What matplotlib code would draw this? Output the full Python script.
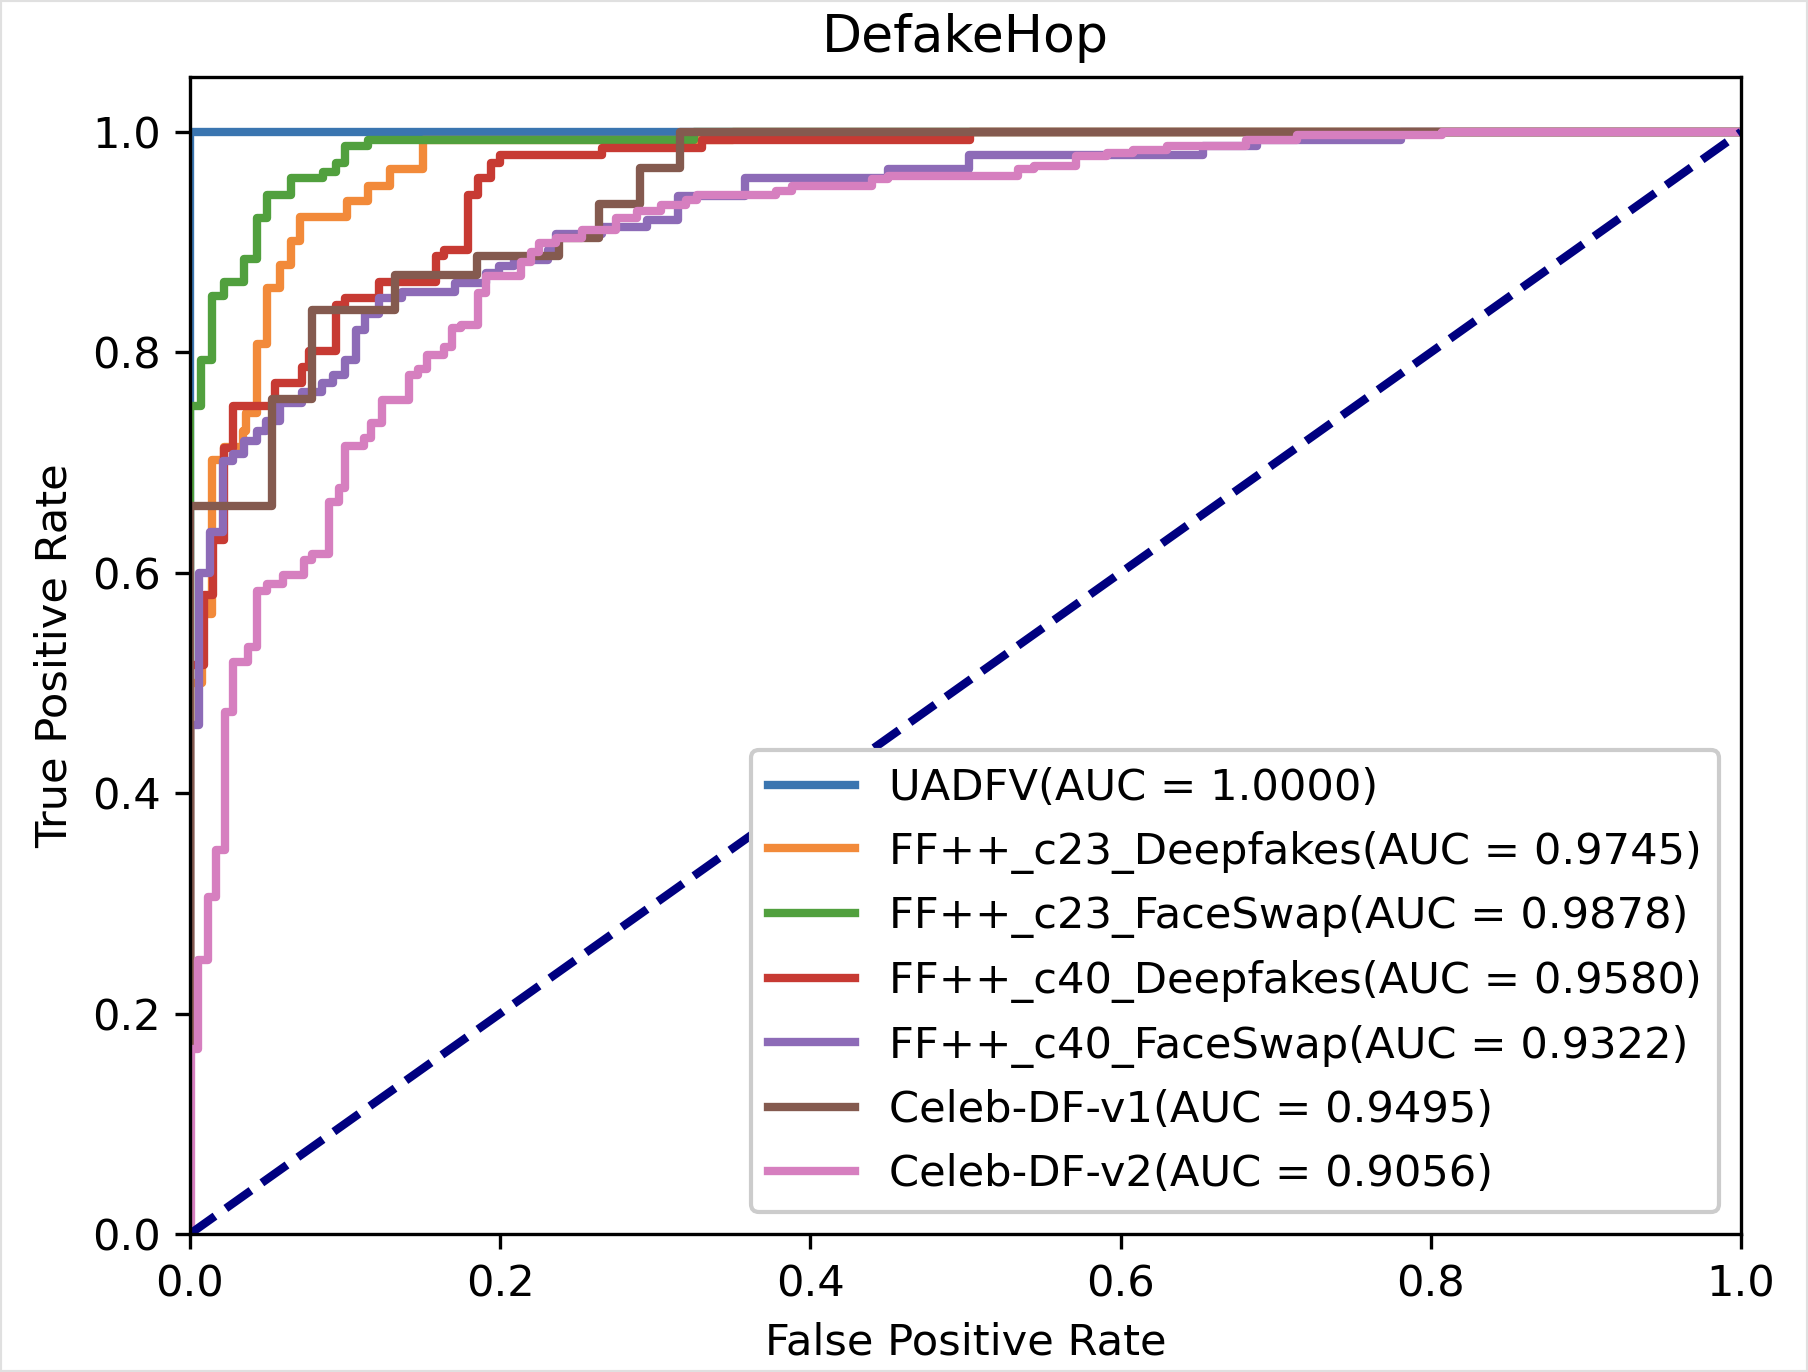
import matplotlib
matplotlib.use("Agg")
import matplotlib.pyplot as plt
from matplotlib.patches import Rectangle

# ---- data (corner points of each ROC staircase) ----
names = ["UADFV", "FF++_c23_Deepfakes", "FF++_c23_FaceSwap", "FF++_c40_Deepfakes",
         "FF++_c40_FaceSwap", "Celeb-DF-v1", "Celeb-DF-v2"]
aucs = [1.0000, 0.9745, 0.9878, 0.9580, 0.9322, 0.9495, 0.9056]

uadfv_fpr = [0.0, 0.0, 1.0]
uadfv_tpr = [0.0, 1.0, 1.0]

c23df_fpr = [0.0, 0.0, 0.008, 0.014, 0.022, 0.034, 0.036, 0.043, 0.050, 0.058, 0.065,
             0.071, 0.101, 0.115, 0.129, 0.150, 0.35, 1.0]
c23df_tpr = [0.0, 0.50, 0.563, 0.702, 0.714, 0.729, 0.745, 0.808, 0.858, 0.879, 0.901,
             0.923, 0.937, 0.951, 0.966, 0.993, 1.0, 1.0]

c23fs_fpr = [0.0, 0.0, 0.007, 0.014, 0.022, 0.035, 0.043, 0.050, 0.065, 0.086, 0.094,
             0.100, 0.115, 0.325, 1.0]
c23fs_tpr = [0.0, 0.751, 0.793, 0.851, 0.864, 0.885, 0.922, 0.943, 0.958, 0.964, 0.972,
             0.987, 0.993, 1.0, 1.0]

c40df_fpr = [0.0, 0.0, 0.009, 0.015, 0.022, 0.028, 0.055, 0.0725, 0.077, 0.094, 0.100,
             0.122, 0.159, 0.164, 0.179, 0.186, 0.194, 0.200, 0.266, 0.330, 0.503, 1.0]
c40df_tpr = [0.0, 0.516, 0.580, 0.630, 0.713, 0.751, 0.772, 0.787, 0.801, 0.843, 0.849,
             0.864, 0.887, 0.893, 0.943, 0.958, 0.972, 0.979, 0.985, 0.993, 1.0, 1.0]

c40fs_fpr = [0.0, 0.0, 0.006, 0.013, 0.0215, 0.028, 0.035, 0.043, 0.049, 0.058, 0.0725,
             0.085, 0.092, 0.100, 0.107, 0.113, 0.122, 0.137, 0.171, 0.191, 0.199, 0.209,
             0.231, 0.236, 0.266, 0.295, 0.315, 0.358, 0.450, 0.502, 0.653, 0.688, 0.781, 1.0]
c40fs_tpr = [0.0, 0.462, 0.600, 0.637, 0.701, 0.708, 0.720, 0.729, 0.738, 0.754, 0.764,
             0.772, 0.779, 0.793, 0.820, 0.835, 0.849, 0.855, 0.863, 0.872, 0.878, 0.884,
             0.893, 0.907, 0.914, 0.920, 0.942, 0.958, 0.966, 0.979, 0.987, 0.993, 1.0, 1.0]

cdf1_fpr = [0.0, 0.0, 0.0527, 0.0787, 0.132, 0.185, 0.238, 0.264, 0.290, 0.316, 1.0]
cdf1_tpr = [0.0, 0.661, 0.758, 0.838, 0.870, 0.887, 0.904, 0.935, 0.967, 1.0, 1.0]

cdf2_fpr = [0.0, 0.001, 0.0054, 0.0119, 0.017, 0.0226, 0.028, 0.0377, 0.043, 0.0496, 0.060,
            0.0733, 0.0787, 0.0894, 0.0959, 0.100, 0.112, 0.117, 0.124, 0.141, 0.147, 0.153,
            0.164, 0.169, 0.175, 0.186, 0.191, 0.2136, 0.220, 0.225, 0.236, 0.253, 0.275,
            0.288, 0.304, 0.320, 0.327, 0.378, 0.388, 0.440, 0.450, 0.534, 0.544, 0.571,
            0.591, 0.608, 0.630, 0.681, 0.714, 0.807, 1.0]
cdf2_tpr = [0.0, 0.168, 0.249, 0.306, 0.348, 0.474, 0.519, 0.533, 0.583, 0.590, 0.598,
            0.612, 0.617, 0.664, 0.677, 0.715, 0.722, 0.736, 0.757, 0.779, 0.785, 0.798,
            0.805, 0.822, 0.825, 0.854, 0.869, 0.882, 0.891, 0.899, 0.904, 0.911, 0.922,
            0.928, 0.934, 0.938, 0.943, 0.946, 0.951, 0.957, 0.960, 0.966, 0.969, 0.978,
            0.981, 0.984, 0.987, 0.993, 0.997, 1.0, 1.0]

fprs = [uadfv_fpr, c23df_fpr, c23fs_fpr, c40df_fpr, c40fs_fpr, cdf1_fpr, cdf2_fpr]
tprs = [uadfv_tpr, c23df_tpr, c23fs_tpr, c40df_tpr, c40fs_tpr, cdf1_tpr, cdf2_tpr]
colors = ["#3a75b0", "#f28a3a", "#51a03e", "#c73a33", "#8d6bb7", "#845a4f", "#d67fbf"]

plt.rcParams["font.size"] = 10.4

fig = plt.figure(figsize=(1808 / 300, 1372 / 300), dpi=300)
ax = fig.add_axes([0.105, 0.1006, 0.858, 0.8434])

for f, t, c, n, a in zip(fprs, tprs, colors, names, aucs):
    ax.plot(f, t, color=c, lw=2, drawstyle="steps-post", label=f"{n}(AUC = {a:.4f})")

ax.plot([0, 1], [0, 1], color="navy", lw=2, linestyle="--")
ax.set_xlim(0.0, 1.0)
ax.set_ylim(0.0, 1.05)
ax.set_xlabel("False Positive Rate")
ax.set_ylabel("True Positive Rate")
ax.set_title("DefakeHop", fontsize=12.5)
ax.legend(loc="lower right", fontsize=10.4, framealpha=1.0)

fig.patches.append(Rectangle((0, 0), 1, 1, transform=fig.transFigure, fill=False,
                             edgecolor="#e0e0e0", lw=1.0))
fig.savefig("out.png", dpi=300)
